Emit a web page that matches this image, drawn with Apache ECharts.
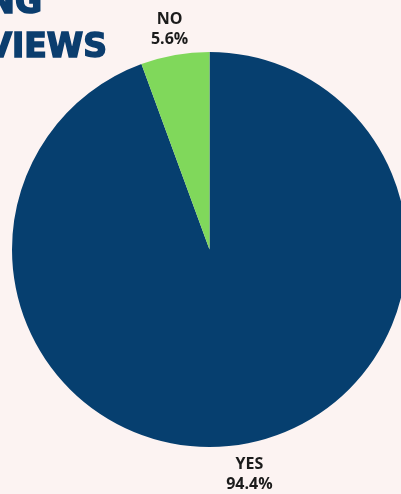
<!DOCTYPE html>
<html>
<head>
<meta charset="utf-8">
<style>
  html, body { margin: 0; padding: 0; background: #fcf3f2; }
  #chart { width: 401px; height: 494px; }
</style>
<script src="https://cdn.jsdelivr.net/npm/echarts@6/dist/echarts.min.js"></script>
</head>
<body>
<div id="chart"></div>
<script>
// Survey answers and their shares (percent)
const answers = ['YES', 'NO'];
const shares = [94.4, 5.6];
const sliceColors = ['#063f6f', '#80d85b'];
const titleLines = ['NG', 'VIEWS'];

const pieData = answers.map((name, i) => ({
  name: name,
  value: shares[i],
  itemStyle: { color: sliceColors[i] }
}));

const center = [209.5, 249.5];
const titleFont = 'bold 33px "DejaVu Sans"';
const titleColor = '#0b3d6e';

const chart = echarts.init(document.getElementById('chart'), null, { renderer: 'canvas' });
chart.setOption({
  backgroundColor: '#fcf3f2',
  animation: false,
  graphic: [
    {
      type: 'text',
      style: { x: 42, y: -12, text: titleLines[0], font: titleFont, fill: titleColor,
               stroke: titleColor, lineWidth: 1.6, align: 'right', verticalAlign: 'top' }
    },
    {
      type: 'text',
      style: { x: 107, y: 32, text: titleLines[1], font: titleFont, fill: titleColor,
               stroke: titleColor, lineWidth: 1.6, align: 'right', verticalAlign: 'top' }
    }
  ],
  series: [
    {
      type: 'pie',
      center: center,
      radius: 197.5,
      startAngle: 90,
      clockwise: true,
      label: { show: false },
      labelLine: { show: false },
      silent: true,
      data: pieData
    },
    {
      // transparent ring that only carries the answer labels
      type: 'pie',
      center: center,
      radius: [215, 235],
      startAngle: 90,
      clockwise: true,
      silent: true,
      itemStyle: { color: 'transparent' },
      label: {
        show: true,
        position: 'inside',
        formatter: '{b}\n{c}%',
        fontFamily: 'Open Sans',
        fontWeight: 'bold',
        fontSize: 16,
        lineHeight: 20,
        color: '#1b1b1b'
      },
      labelLayout: function (params) {
        // nudge the small-slice label a little closer to the pie
        return params.dataIndex === 1 ? { dy: 4 } : {};
      },
      labelLine: { show: false },
      data: answers.map((name, i) => ({ name: name, value: shares[i] }))
    }
  ]
});
</script>
</body>
</html>
